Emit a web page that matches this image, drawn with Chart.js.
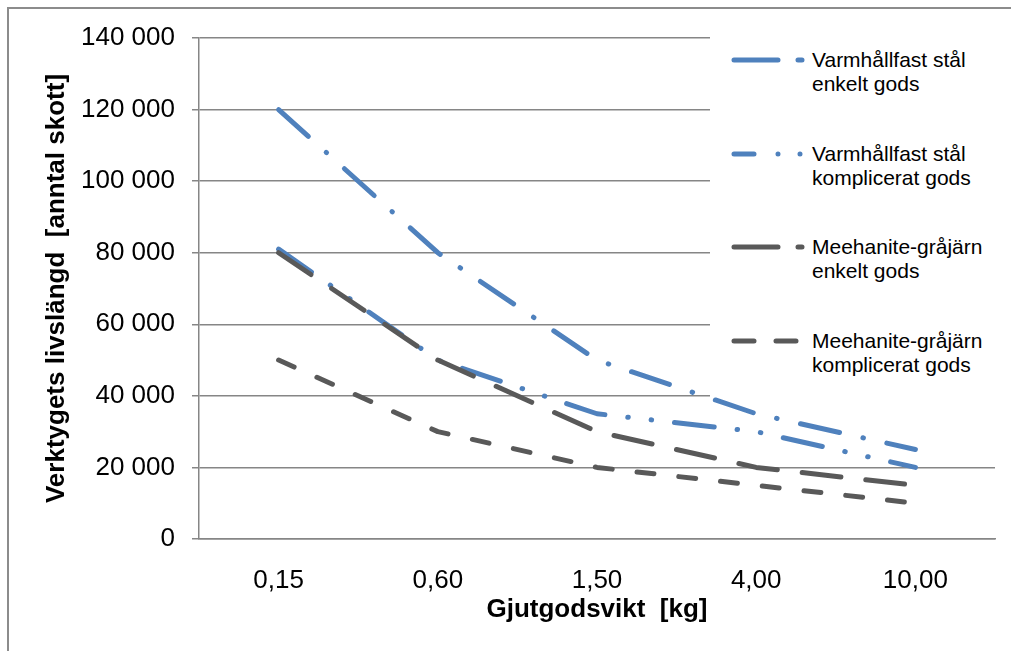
<!DOCTYPE html>
<html>
<head>
<meta charset="utf-8">
<title>Verktygets livslängd</title>
<script src="https://cdn.jsdelivr.net/npm/chart.js@4.4.1/dist/chart.umd.min.js"></script>
<style>
    html, body { margin: 0; padding: 0; background: #fff; overflow: hidden; }
    #wrap { position: relative; width: 1011px; height: 651px; overflow: hidden; }
    #chart { display: block; }
    #frame { position: absolute; left: 7px; top: 7px; width: 1100px; height: 700px;
             border-left: 2px solid #8c8c8c; border-top: 2px solid #8c8c8c; pointer-events: none; }
    #legend { position: absolute; left: 710px; top: 28px; width: 301px; height: 369px; background: #fff; }
    .item { position: absolute; left: 0; width: 300px; height: 50px; }
    .item svg { position: absolute; left: 21px; top: 6px; }
    .item .txt { position: absolute; left: 102px; top: 0; font: 21px 'Liberation Sans', Arial, sans-serif;
                 line-height: 24px; white-space: nowrap; color: #000; }
</style>
</head>
<body>
<div id="wrap">
    <canvas id="chart" width="1011" height="651"></canvas>
    <div id="frame"></div>
    <div id="legend"></div>
</div>
<script>
// Gjutgodsvikt [kg] on the x axis
const categories = ['0,15', '0,60', '1,50', '4,00', '10,00'];

// Verktygets livslängd [antal skott]
const stalEnkelt = [120000, 80000, 50000, 35000, 25000];
const stalKomplicerat = [81000, 50000, 35000, 30000, 20000];
const meehaniteEnkelt = [80000, 50000, 30000, 20000, 15000];
const meehaniteKomplicerat = [50000, 30000, 20000, 15000, 10000];

const seriesLabels = [
    ['Varmhållfast stål', 'enkelt gods'],
    ['Varmhållfast stål', 'komplicerat gods'],
    ['Meehanite-gråjärn', 'enkelt gods'],
    ['Meehanite-gråjärn', 'komplicerat gods']
];

// y axis: 0 .. 140 000, step 20 000
const yMin = 0;
const yMax = 140000;
const yStep = 20000;

const BLUE = '#4f81bd';
const GRAY = '#595959';
const GRID = '#868686';
const FONT = "'Liberation Sans', Arial, sans-serif";

// Format with space as thousands separator (140 000)
function formatNumber(num) {
    return num.toString().replace(/\B(?=(\d{3})+(?!\d))/g, ' ');
}

function makeDataset(label, data, color, dash, order) {
    return {
        label: label.join(' '),
        data: data,
        borderColor: color,
        backgroundColor: color,
        borderWidth: 5,
        borderDash: dash,
        borderCapStyle: 'round',
        borderJoinStyle: 'round',
        pointRadius: 0,
        pointHoverRadius: 0,
        tension: 0,
        fill: false,
        order: order
    };
}

const datasets = [
    makeDataset(seriesLabels[0], stalEnkelt, BLUE, [40, 24, 0.5, 24], 4),
    makeDataset(seriesLabels[1], stalKomplicerat, BLUE, [40, 23, 0.5, 23, 0.5, 23], 3),
    makeDataset(seriesLabels[2], meehaniteEnkelt, GRAY, [39, 25], 2),
    makeDataset(seriesLabels[3], meehaniteKomplicerat, GRAY, [17, 25], 1)
];

// Legend samples are drawn a bit differently from the plot lines
const legendDash = ['44 20', '20 24 0 22 0 22', '44 20', '20 22'];
const legendEnd = [71, 71, 71, 65];

new Chart(document.getElementById('chart'), {
    type: 'line',
    data: { labels: categories, datasets: datasets },
    options: {
        responsive: false,
        animation: false,
        devicePixelRatio: 1,
        layout: { padding: { top: 38, right: 16, left: 0, bottom: 0 } },
        plugins: {
            legend: { display: false },
            tooltip: { enabled: false }
        },
        scales: {
            x: {
                offset: true,
                grid: { display: false },
                border: { display: true, color: GRID, width: 1.5 },
                ticks: {
                    color: '#000',
                    padding: 18,
                    maxRotation: 0,
                    autoSkip: false,
                    font: { family: FONT, size: 26 }
                },
                title: {
                    display: true,
                    text: 'Gjutgodsvikt  [kg]',
                    color: '#000',
                    font: { family: FONT, size: 26, weight: 'bold' },
                    padding: { top: 0, bottom: 26 }
                },
                afterFit: (scale) => { scale.height = 112; }
            },
            y: {
                min: yMin,
                max: yMax,
                grid: { color: GRID, lineWidth: 1.5, tickLength: 7 },
                border: { display: true, color: GRID, width: 1.5 },
                ticks: {
                    stepSize: yStep,
                    color: '#000',
                    padding: 17,
                    font: { family: FONT, size: 26 },
                    callback: (value) => formatNumber(value)
                },
                title: {
                    display: true,
                    text: 'Verktygets livslängd  [anntal skott]',
                    color: '#000',
                    font: { family: FONT, size: 26, weight: 'bold' },
                    padding: { top: 41, bottom: 0 }
                },
                afterFit: (scale) => { scale.width = 199; }
            }
        }
    }
});

// HTML legend, on a white box that covers the grid lines behind it
const legend = document.getElementById('legend');
datasets.forEach((ds, i) => {
    const item = document.createElement('div');
    item.className = 'item';
    item.style.top = (20 + i * 93.7) + 'px';
    item.innerHTML = `
        <svg width="80" height="12">
            <line x1="3" y1="6" x2="${legendEnd[i]}" y2="6" stroke="${ds.borderColor}"
                  stroke-width="5" stroke-linecap="round" stroke-dasharray="${legendDash[i]}"/>
        </svg>
        <div class="txt">${seriesLabels[i][0]}<br>${seriesLabels[i][1]}</div>
    `;
    legend.appendChild(item);
});
</script>
</body>
</html>
